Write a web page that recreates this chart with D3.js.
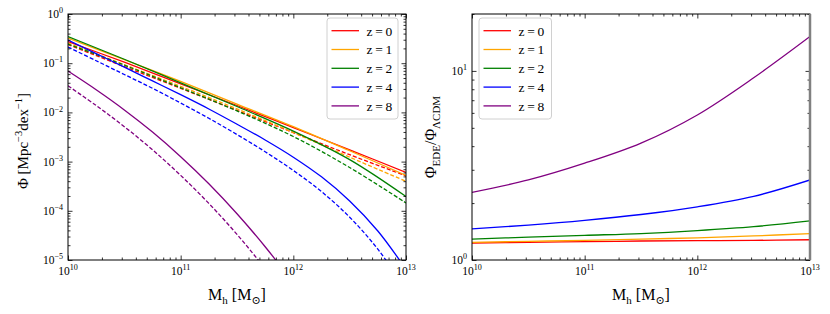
<!DOCTYPE html>
<html>
<head>
<meta charset="utf-8">
<script src="https://cdn.jsdelivr.net/npm/d3@7"></script>
<style>
  body { margin: 0; background: #fff; }
  svg text { font-family: "Liberation Serif", "DejaVu Serif", serif; fill: #000; }
</style>
</head>
<body>
<svg id="chart" width="830" height="314"></svg>
<script>
// halo mass grids, log10(Mh / Msun)
var logMass = [10, 10.5, 11, 11.5, 12, 12.5, 13];
var logMassQuarter = [10, 10.25, 10.5, 10.75, 11, 11.25, 11.5, 11.75, 12, 12.25, 12.5, 12.75, 13];
var logMassLow = [10, 10.25, 10.5, 10.75, 11, 11.25, 11.5, 11.75, 12];

var redshifts = ["0", "1", "2", "4", "8"];
var colors = ["red", "orange", "green", "blue", "purple"];

// log10 Phi [Mpc^-3 dex^-1], EDE (solid lines)
var phiEdeZ0 = [-0.56, -0.98, -1.42, -1.86, -2.31, -2.76, -3.22];      // logMass
var phiEdeZ1 = [-0.49, -0.93, -1.37, -1.83, -2.29, -2.78, -3.28];      // logMass
var phiEdeZ2 = [-0.46, -0.92, -1.40, -1.88, -2.38, -2.96, -3.71];      // logMass
var phiEdeZ4 = [-0.53, -0.805, -1.08, -1.36, -1.64, -1.93, -2.24, -2.56, -2.91,
                -3.31, -3.80, -4.41, -5.19];                            // logMassQuarter
var phiEdeZ8 = [-1.16, -1.54, -1.95, -2.40, -2.90, -3.45, -4.06, -4.73, -5.47]; // logMassLow

// log10 Phi, LCDM (dashed lines)
var phiLcdmZ0 = [-0.62, -1.07, -1.51, -1.96, -2.41, -2.86, -3.29];
var phiLcdmZ1 = [-0.59, -1.03, -1.47, -1.93, -2.41, -2.91, -3.40];
var phiLcdmZ2 = [-0.61, -1.04, -1.50, -1.97, -2.49, -3.12, -3.84];
var phiLcdmZ4 = [-0.67, -0.95, -1.23, -1.51, -1.81, -2.12, -2.45, -2.80, -3.18,
                 -3.61, -4.13, -4.78, -5.60];
var phiLcdmZ8 = [-1.46, -1.86, -2.29, -2.76, -3.28, -3.85, -4.48, -5.18, -5.95];

var gridLeft = [logMass, logMass, logMass, logMassQuarter, logMassLow];

// ratio Phi_EDE / Phi_LCDM, on logMass
var ratioZ0 = [1.23, 1.24, 1.25, 1.26, 1.265, 1.27, 1.28];
var ratioZ1 = [1.24, 1.255, 1.27, 1.29, 1.31, 1.34, 1.38];
var ratioZ2 = [1.29, 1.32, 1.35, 1.38, 1.43, 1.50, 1.61];
var ratioZ4 = [1.46, 1.53, 1.62, 1.74, 1.91, 2.17, 2.65];
var ratioZ8 = [2.28, 2.65, 3.25, 4.15, 5.85, 9.2, 15.2];

var leftTicksY = [-5, -4, -3, -2, -1, 0];
var massTicks = [10, 11, 12, 13];
var ratioTicks = [0, 1];

var svg = d3.select("#chart");

// panel boxes
var left = {x0: 68, x1: 406, y0: 14, y1: 260};
var right = {x0: 472, x1: 810, y0: 14, y1: 260};

var xL = d3.scaleLog().domain([1e10, 1e13]).range([left.x0, left.x1]);
var yL = d3.scaleLog().domain([1e-5, 1]).range([left.y1, left.y0]);
var xR = d3.scaleLog().domain([1e10, 1e13]).range([right.x0, right.x1]);
var yR = d3.scaleLog().domain([1, 20]).range([right.y1, right.y0]);

function pow10(v) { return Math.pow(10, v); }

function minorTicks(lo, hi) {
    var out = [];
    for (var e = lo; e < hi; e++) {
        for (var k = 2; k <= 9; k++) out.push(k * Math.pow(10, e));
    }
    return out;
}

// superscript label like 10^-3
function powLabel(sel, exp, size) {
    sel.append("tspan").text("10");
    sel.append("tspan")
        .attr("dy", -size * 0.42)
        .style("font-size", (size * 0.7) + "px")
        .text(exp < 0 ? "\u2212" + (-exp) : exp);
}

function drawFrame(g, box, xs, ys, yMinor, yMajor) {
    // ticks, all pointing inside
    var xMaj = massTicks.map(pow10), xMin = minorTicks(10, 13);
    g.append("g").attr("transform", "translate(0," + box.y1 + ")")
        .call(d3.axisBottom(xs).tickValues(xMaj).tickSize(-4.5).tickFormat(""));
    g.append("g").attr("transform", "translate(0," + box.y1 + ")")
        .call(d3.axisBottom(xs).tickValues(xMin).tickSize(-2.5).tickFormat(""));
    g.append("g").attr("transform", "translate(0," + box.y0 + ")")
        .call(d3.axisTop(xs).tickValues(xMaj).tickSize(-4.5).tickFormat(""));
    g.append("g").attr("transform", "translate(0," + box.y0 + ")")
        .call(d3.axisTop(xs).tickValues(xMin).tickSize(-2.5).tickFormat(""));
    g.append("g").attr("transform", "translate(" + box.x0 + ",0)")
        .call(d3.axisLeft(ys).tickValues(yMajor).tickSize(-4.5).tickFormat(""));
    g.append("g").attr("transform", "translate(" + box.x0 + ",0)")
        .call(d3.axisLeft(ys).tickValues(yMinor).tickSize(-2.5).tickFormat(""));
    g.append("g").attr("transform", "translate(" + box.x1 + ",0)")
        .call(d3.axisRight(ys).tickValues(yMajor).tickSize(-4.5).tickFormat(""));
    g.append("g").attr("transform", "translate(" + box.x1 + ",0)")
        .call(d3.axisRight(ys).tickValues(yMinor).tickSize(-2.5).tickFormat(""));
    g.selectAll(".domain").remove();
    g.selectAll(".tick line").attr("stroke", "#000").attr("stroke-width", 0.8);

    g.append("rect")
        .attr("x", box.x0).attr("y", box.y0)
        .attr("width", box.x1 - box.x0).attr("height", box.y1 - box.y0)
        .attr("fill", "none").attr("stroke", "#000").attr("stroke-width", 1);

    // x tick labels
    massTicks.forEach(function (e) {
        var t = g.append("text")
            .attr("x", xs(pow10(e)))
            .attr("y", box.y1 + 15)
            .attr("text-anchor", "middle")
            .style("font-size", "11.5px");
        powLabel(t, e, 11.5);
    });

    // x axis label: M_h [M_sun]
    var xl = g.append("text")
        .attr("x", (box.x0 + box.x1) / 2)
        .attr("y", 300)
        .attr("text-anchor", "middle")
        .style("font-size", "16px");
    xl.append("tspan").text("M");
    xl.append("tspan").attr("dy", 4).style("font-size", "11px").text("h");
    xl.append("tspan").attr("dy", -4).text(" [M");
    xl.append("tspan").attr("dy", 4).style("font-size", "11px").text("\u2299");
    xl.append("tspan").attr("dy", -4).text("]");
}

function drawLines(g, box, xs, ys, series, clipId) {
    svg.append("clipPath").attr("id", clipId)
        .append("rect")
        .attr("x", box.x0).attr("y", box.y0)
        .attr("width", box.x1 - box.x0).attr("height", box.y1 - box.y0);

    var line = d3.line()
        .x(function (d) { return xs(pow10(d[0])); })
        .y(function (d) { return ys(d[1]); })
        .curve(d3.curveCatmullRom.alpha(0.5));

    g.append("g").attr("clip-path", "url(#" + clipId + ")")
        .selectAll("path")
        .data(series)
        .enter()
        .append("path")
        .attr("d", function (s) { return line(d3.zip(s.x, s.y)); })
        .attr("fill", "none")
        .attr("stroke", function (s) { return s.color; })
        .attr("stroke-width", 1.3)
        .attr("stroke-dasharray", function (s) { return s.dashed ? "4,2" : null; });
}

function drawLegend(g, x, y, w) {
    g.append("rect")
        .attr("x", x).attr("y", y).attr("width", w).attr("height", 101)
        .attr("rx", 3)
        .attr("fill", "#fff").attr("fill-opacity", 0.8)
        .attr("stroke", "#d0d0d0").attr("stroke-width", 1);

    var item = g.selectAll("g.leg")
        .data(redshifts)
        .enter().append("g")
        .attr("transform", function (d, i) { return "translate(" + x + "," + (y + 12.7 + i * 18.8) + ")"; });
    item.append("line")
        .attr("x1", 4.5).attr("x2", 32)
        .attr("stroke", function (d, i) { return colors[i]; })
        .attr("stroke-width", 1.3);
    item.append("text")
        .attr("x", 39.5).attr("y", 4.8)
        .style("font-size", "13.5px")
        .text(function (d) { return "z\u2009=\u2009" + d; });
}

// ---- left panel: Phi(Mh)
var gL = svg.append("g");
var edeLeft = [phiEdeZ0, phiEdeZ1, phiEdeZ2, phiEdeZ4, phiEdeZ8];
var lcdmLeft = [phiLcdmZ0, phiLcdmZ1, phiLcdmZ2, phiLcdmZ4, phiLcdmZ8];
var leftSeries = [];
redshifts.forEach(function (z, i) {
    leftSeries.push({x: gridLeft[i], y: lcdmLeft[i].map(pow10), color: colors[i], dashed: true});
});
redshifts.forEach(function (z, i) {
    leftSeries.push({x: gridLeft[i], y: edeLeft[i].map(pow10), color: colors[i], dashed: false});
});
drawLines(gL, left, xL, yL, leftSeries, "clipL");
drawFrame(gL, left, xL, yL, minorTicks(-5, 0), leftTicksY.map(pow10));

leftTicksY.forEach(function (e) {
    var t = gL.append("text")
        .attr("x", left.x0 - 5)
        .attr("y", yL(pow10(e)) + 4)
        .attr("text-anchor", "end")
        .style("font-size", "11.5px");
    powLabel(t, e, 11.5);
});

var yl = gL.append("text")
    .attr("transform", "translate(28," + ((left.y0 + left.y1) / 2 + 4) + ") rotate(-90)")
    .attr("text-anchor", "middle")
    .style("font-size", "15px");
yl.append("tspan").text("\u03a6 [Mpc");
yl.append("tspan").attr("dy", -6).style("font-size", "10.5px").text("\u22123");
yl.append("tspan").attr("dy", 6).text("dex");
yl.append("tspan").attr("dy", -6).style("font-size", "10.5px").text("\u22121");
yl.append("tspan").attr("dy", 6).text("]");

drawLegend(gL, 327, 18, 71);

// ---- right panel: ratio
var gR = svg.append("g");
var ratios = [ratioZ0, ratioZ1, ratioZ2, ratioZ4, ratioZ8];
var rightSeries = ratios.map(function (r, i) {
    return {x: logMass, y: r, color: colors[i], dashed: false};
});
drawLines(gR, right, xR, yR, rightSeries, "clipR");
var rMinor = [2, 3, 4, 5, 6, 7, 8, 9, 20];
drawFrame(gR, right, xR, yR, rMinor, ratioTicks.map(pow10));

gR.append("line")
    .attr("x1", right.x1).attr("x2", right.x1)
    .attr("y1", right.y0).attr("y2", right.y1)
    .attr("stroke", "#808080").attr("stroke-width", 2.5);

ratioTicks.forEach(function (e) {
    var t = gR.append("text")
        .attr("x", right.x0 - 5)
        .attr("y", yR(pow10(e)) + 4)
        .attr("text-anchor", "end")
        .style("font-size", "11.5px");
    powLabel(t, e, 11.5);
});

var yr = gR.append("text")
    .attr("transform", "translate(436," + ((right.y0 + right.y1) / 2) + ") rotate(-90)")
    .attr("text-anchor", "middle")
    .style("font-size", "16px");
yr.append("tspan").text("\u03a6");
yr.append("tspan").attr("dy", 4).style("font-size", "11px").text("EDE");
yr.append("tspan").attr("dy", -4).text("/\u03a6");
yr.append("tspan").attr("dy", 4).style("font-size", "11px").text("\u039bCDM");

drawLegend(gR, 479, 18, 72.5);
</script>
</body>
</html>
